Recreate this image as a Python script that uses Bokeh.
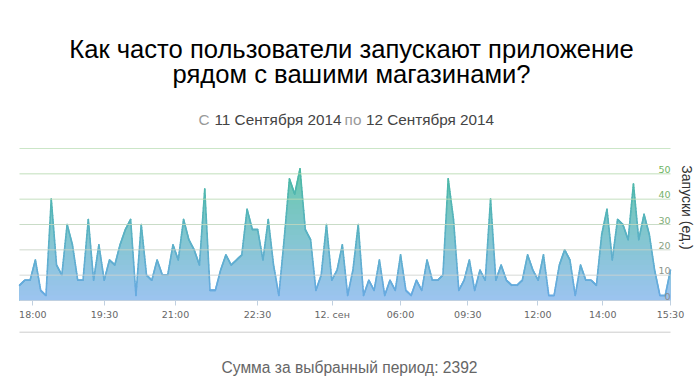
import numpy as np
from bokeh.plotting import figure
from bokeh.models import Label, FixedTicker, Range1d, CustomJSTickFormatter
from bokeh.layouts import column
from bokeh.embed import file_html
from bokeh.resources import INLINE
from bokeh.core.properties import value

# ---------------- data ----------------
launches = [
    6, 8, 8, 16, 4, 2, 40, 14, 10, 30, 22, 8, 8, 32, 8, 22, 8, 16, 14, 22,
    28, 32, 2, 30, 10, 8, 16, 10, 10, 22, 16, 32, 24, 20, 14, 44, 4, 4, 12, 18,
    14, 16,
    18, 36, 28, 28, 16, 32, 14, 2, 24, 48, 42, 52, 28, 24, 4, 10, 30, 8, 12, 22,
    2, 12, 30, 2, 8, 4, 16, 2, 8, 4, 18, 4, 2, 8, 4, 16, 8, 8, 10, 48,
    32, 4, 8, 16,
    4, 12, 8, 40, 8, 14, 8, 6, 6, 8, 18, 12, 8, 18, 2, 2, 14, 20, 16, 2,
    14, 8, 8, 6, 26, 36, 16, 32, 30, 24, 46, 24, 34, 26, 12, 2, 2, 12,
]
x_tick_positions = [2.51, 16.06, 29.48, 44.97, 59.08, 71.99, 84.70, 97.93, 110.2, 123.0]
x_tick_labels = ["18:00", "19:30", "21:00", "22:30", "12. сен", "06:00", "09:30", "12:00", "14:00", "15:30"]
y_tick_values = [0, 10, 20, 30, 40, 50]
y_grid_values = [10, 20, 30, 40, 50, 60]
title_lines = ["Как часто пользователи запускают приложение", "рядом с вашими магазинами?"]
subtitle_parts = ["С", "11 Сентября 2014", "по", "12 Сентября 2014"]
axis_title = "Запуски (ед.)"
total_text = "Сумма за выбранный период: 2392"

# ---------------- styles ----------------
y_label_colors = ["#8c8c8c", "#8e968c", "#88a282", "#80ac76", "#76b26a", "#6eb462"]
grid_colors = ["#d0d2d0", "#c8d2c6", "#c0d6bd", "#bad9b5", "#b6dbb0", "#c2e2bd"]
FILL_BOT = np.array([156, 196, 240])
FILL_TOP = np.array([96, 200, 162])
LINE_BOT = np.array([106, 170, 228])
LINE_TOP = np.array([70, 188, 154])
Y_MAX = 60

W, H_TOP, H_BOT = 700, 330, 58


def lerp_hex(c0, c1, t):
    t = float(np.clip(t, 0, 1))
    c = np.round(c0 + (c1 - c0) * t).astype(int)
    return "#%02x%02x%02x" % tuple(c)


n = len(launches)
xs_idx = np.arange(n)
vals = np.array(launches, dtype=float)

# page geometry: data area spans page x 19..670, y 148 (60) .. 300 (0)
DATA_LEFT_PX, DATA_RIGHT_PX = 19.0, 670.0
DATA_TOP_PX, DATA_BOT_PX = 148.0, 300.0
XS = (DATA_RIGHT_PX - DATA_LEFT_PX) / (n - 1)
YS = (DATA_BOT_PX - DATA_TOP_PX) / Y_MAX


def px_x(px):
    return (px - DATA_LEFT_PX) / XS


def px_y(py):
    return (DATA_BOT_PX - py) / YS


# frame covers the whole canvas above the x axis
p = figure(width=W, height=H_TOP, title=None,
           x_range=Range1d(px_x(0), px_x(W)), y_range=Range1d(0, px_y(0)),
           min_border_left=0, min_border_right=0, min_border_top=0,
           min_border_bottom=H_TOP - int(DATA_BOT_PX),
           y_axis_location=None, toolbar_location=None, output_backend="svg",
           outline_line_color=None, background_fill_color="white", border_fill_color="white")
p.xgrid.visible = False
p.ygrid.visible = False

# dense drawing grid for the vertical colour gradient
xf = np.linspace(0, n - 1, (n - 1) * 16 + 1)
vf = np.interp(xf, xs_idx, vals)

for level in np.arange(Y_MAX, 0, -2):
    p.varea(x=xf, y1=np.zeros_like(vf), y2=np.minimum(vf, level),
            fill_color=lerp_hex(FILL_BOT, FILL_TOP, (level - 1) / Y_MAX))

# gradient line
seg_mid = (vf[:-1] + vf[1:]) / 2
seg_colors = [lerp_hex(LINE_BOT, LINE_TOP, m / Y_MAX) for m in seg_mid]
p.segment(x0=xf[:-1], y0=vf[:-1], x1=xf[1:], y1=vf[1:], line_color=seg_colors,
          line_width=1.6, line_cap="round")

# grid lines (limited to the data width)
p.segment(x0=[0] * len(y_grid_values), x1=[n - 1] * len(y_grid_values),
          y0=y_grid_values, y1=y_grid_values, line_color=grid_colors, line_width=1, line_alpha=0.85)

# y tick labels inside plot (right)
p.text(x=[n - 1] * len(y_tick_values), y=y_tick_values, text=[str(v) for v in y_tick_values],
       text_align="right", text_baseline="bottom", y_offset=-1,
       text_font=value("DejaVu Sans"), text_font_size="9.5px", text_color=y_label_colors)

# x axis
p.xaxis.bounds = (0, n - 1)
p.xaxis.ticker = FixedTicker(ticks=x_tick_positions)
p.xaxis.formatter = CustomJSTickFormatter(
    args=dict(pos=x_tick_positions, labels=x_tick_labels),
    code="""
    for (let i = 0; i < pos.length; i++) {
        if (Math.abs(pos[i] - tick) < 1e-6) return labels[i];
    }
    return "";
    """)
p.xaxis.axis_line_color = "#c0d0e0"
p.xaxis.major_tick_line_color = "#c0d0e0"
p.xaxis.major_tick_out = 5
p.xaxis.major_tick_in = 0
p.xaxis.minor_tick_line_color = None
p.xaxis.major_label_standoff = 3
p.xaxis.major_label_text_font = "DejaVu Sans"
p.xaxis.major_label_text_font_size = "9.5px"
p.xaxis.major_label_text_color = "#666666"

# titles
for line, base in zip(title_lines, [48.3, 73.8]):
    p.add_layout(Label(x=px_x(351), y=px_y(base), text=line, text_align="center",
                       text_baseline="alphabetic", text_font="Liberation Sans",
                       text_font_size="25.6px", text_color="#000000"))

sub_centers = [203.5, 277.5, 352.5, 429.5]
sub_colors = ["#999999", "#444444", "#999999", "#444444"]
for txt, cx, col in zip(subtitle_parts, sub_centers, sub_colors):
    p.add_layout(Label(x=px_x(cx), y=px_y(119.3), text=txt, text_align="center",
                       text_baseline="alphabetic", text_font="Liberation Sans",
                       text_font_size="15.3px", text_color=col))

p.add_layout(Label(x=px_x(686), y=px_y(207), text=axis_title, angle=-np.pi / 2,
                   text_align="center", text_baseline="middle", text_font="Liberation Sans",
                   text_font_size="14px", text_color="#333333"))

# bottom panel: separator + total
p2 = figure(width=W, height=H_BOT, title=None, x_range=Range1d(0, W), y_range=Range1d(0, H_BOT),
            min_border_left=0, min_border_right=0, min_border_top=0, min_border_bottom=0,
            x_axis_location=None, y_axis_location=None, toolbar_location=None,
            output_backend="svg", outline_line_color=None)
p2.xgrid.visible = False
p2.ygrid.visible = False
sep_y = H_TOP + H_BOT - 331.7
p2.segment(x0=[DATA_LEFT_PX], x1=[DATA_RIGHT_PX], y0=[sep_y], y1=[sep_y],
           line_color="#cccccc", line_width=1)
p2.add_layout(Label(x=349, y=H_TOP + H_BOT - 366.7, text=total_text, text_align="center",
                    text_baseline="alphabetic", text_font="Liberation Sans",
                    text_font_size="15.6px", text_color="#666666"))

layout = column(p, p2, spacing=0)
open("out.html", "w").write(file_html(layout, INLINE))
